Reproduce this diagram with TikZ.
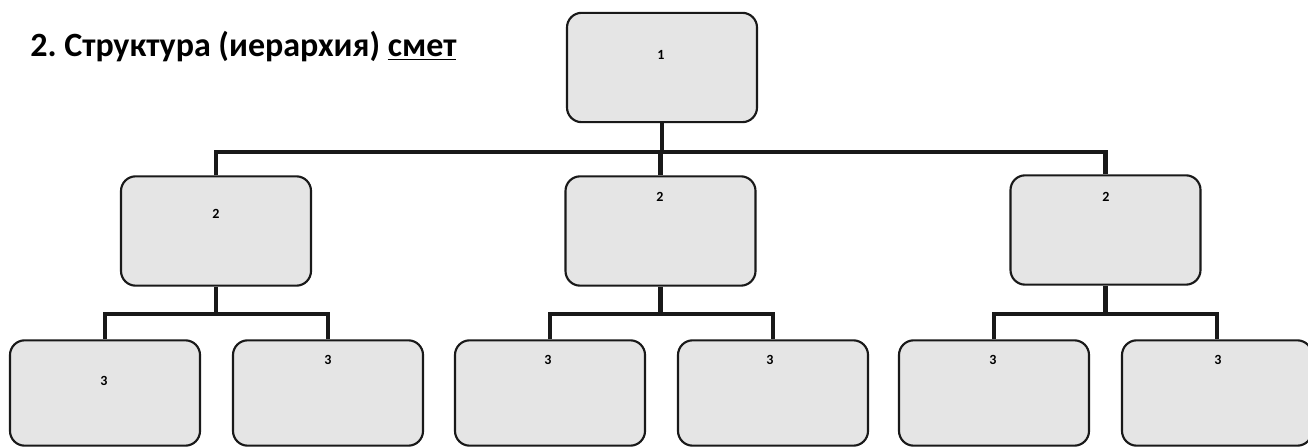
\documentclass[tikz,border=0pt]{standalone}
\usepackage{fontspec}
\setmainfont{Carlito}
\begin{document}
\begin{tikzpicture}[x=0.75pt,y=-0.75pt,
  box/.style={draw=black!90, line width=1.6pt, fill=black!10, rounded corners=11pt,
    minimum width=142.5pt, minimum height=82pt, inner sep=0pt},
  num/.style={font=\bfseries\fontsize{10.5}{12}\selectfont, inner sep=0pt},
  conn/.style={draw=black!90, line width=3.6pt}]
\useasboundingbox (0,0) rectangle (1308,448);
\clip (0,0) rectangle (1308,448);
% title
\node[anchor=base west, inner sep=0pt, font=\bfseries\fontsize{25.5}{29}\selectfont]
  (title) at (30,57) {2.\ Структура (иерархия) \underline{смет}};
% level 1
\node[box] (top) at (662,67.5) {};
% level 2
\node[box] (m1) at (216,231) {};
\node[box] (m2) at (660.5,231) {};
\node[box] (m3) at (1105.5,230) {};
% level 3
\node[box, minimum height=79pt] (b1) at (105,393) {};
\node[box, minimum height=79pt] (b2) at (328,393) {};
\node[box, minimum height=79pt] (b3) at (550,393) {};
\node[box, minimum height=79pt] (b4) at (773,393) {};
\node[box, minimum height=79pt] (b5) at (994,393) {};
\node[box, minimum height=79pt] (b6) at (1217,393) {};
% bus junctions
\coordinate (j0) at (662,152);
\coordinate (j1) at (216,314);
\coordinate (j2) at (660.5,314);
\coordinate (j3) at (1105.5,314);
% connectors
\draw[conn] (top.south) -- (j0);
\draw[conn] (m1.north) |- (j0) -| (m3.north);
\draw[conn] (m2.north) -- (m2.north |- j0);
\draw[conn] (m1.south) -- (j1);
\draw[conn] (b1.north) |- (j1) -| (b2.north);
\draw[conn] (m2.south) -- (j2);
\draw[conn] (b3.north) |- (j2) -| (b4.north);
\draw[conn] (m3.south) -- (j3);
\draw[conn] (b5.north) |- (j3) -| (b6.north);
% labels
\node[num] (n1) at (661,55) {1};
\node[num] (n2a) at (216,214) {2};
\node[num] (n2b) at (660,197) {2};
\node[num] (n2c) at (1106,197) {2};
\node[num] (n3a) at (104,381) {3};
\node[num] (n3b) at (328,360) {3};
\node[num] (n3c) at (548,360) {3};
\node[num] (n3d) at (770,360) {3};
\node[num] (n3e) at (993,360) {3};
\node[num] (n3f) at (1218,360) {3};
\end{tikzpicture}
\end{document}
